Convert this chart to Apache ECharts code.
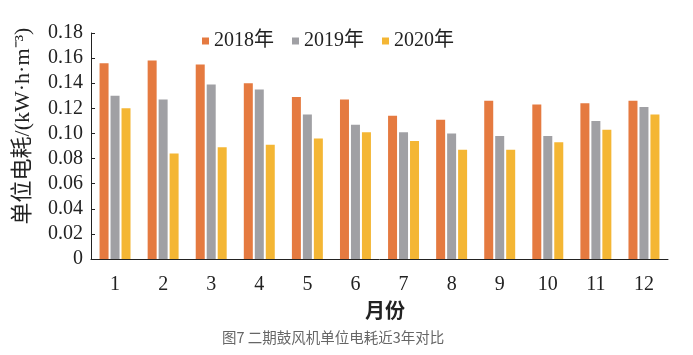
<!DOCTYPE html>
<html><head><meta charset="utf-8">
<script src="https://cdn.jsdelivr.net/npm/echarts@6/dist/echarts.min.js"></script>
<style>html,body{margin:0;padding:0;background:#fff}#c{width:693px;height:355px}</style>
</head><body><div id="c"></div>
<script>
var months = ['1','2','3','4','5','6','7','8','9','10','11','12'];
var seriesNames = ['2018年','2019年','2020年'];
var v2018 = [0.156,0.158,0.155,0.140,0.129,0.127,0.114,0.111,0.126,0.123,0.124,0.126];
var v2019 = [0.130,0.127,0.139,0.135,0.115,0.107,0.101,0.100,0.098,0.098,0.110,0.121];
var v2020 = [0.120,0.084,0.089,0.091,0.096,0.101,0.094,0.087,0.087,0.093,0.103,0.115];
var yTicks = [0,0.02,0.04,0.06,0.08,0.10,0.12,0.14,0.16,0.18];
var colors = ['#E57A40','#A0A0A4','#F4B634'];
var serif = '"Liberation Serif","Noto Sans CJK SC",serif';
var chart = echarts.init(document.getElementById('c'));
function mk(name, data, i){
  return {name:name,type:'bar',data:data,barWidth:9,barGap:'22%',itemStyle:{color:colors[i]}};
}
chart.setOption({
  animation:false,
  grid:{left:91,right:25,top:33,bottom:96},
  legend:{top:26,left:197,itemWidth:7,itemHeight:7,itemGap:18,icon:'rect',
    textStyle:{fontFamily:serif,fontSize:20,color:'#222'},
    data:seriesNames},
  graphic:[
    {type:'text',left:222,top:330,style:{text:'图7 二期鼓风机单位电耗近3年对比',font:'14.5px "Noto Sans CJK SC",sans-serif',fill:'#666'}},
    {type:'text',left:365,top:300,style:{text:'月份',font:'bold 20px "Noto Sans CJK SC",serif',fill:'#222'}},
    {type:'text',x:23,y:126,rotation:Math.PI/2,style:{text:'单位电耗/(kW·h·m⁻³)',font:'22px "Liberation Serif","Noto Sans CJK SC",serif',fill:'#222',align:'center',verticalAlign:'middle'}}
  ],
  xAxis:{type:'category',data:months,
    axisLine:{lineStyle:{color:'#222',width:1}},
    axisTick:{inside:true,length:4,lineStyle:{color:'#222'}},
    axisLabel:{fontFamily:serif,fontSize:20,color:'#222',margin:16}},
  yAxis:{type:'value',min:0,max:0.18,interval:0.02,
    axisLine:{show:true,lineStyle:{color:'#222',width:1}},
    axisTick:{show:true,inside:true,length:4,lineStyle:{color:'#222'}},
    splitLine:{show:false},
    axisLabel:{fontFamily:serif,fontSize:20,color:'#222',margin:8,
      formatter:function(v){ var t = yTicks.find(function(x){return Math.abs(x-v)<1e-9;}); return t===0?'0':(t!==undefined?t.toFixed(2):v.toFixed(2)); }}},
  series:[mk(seriesNames[0],v2018,0),mk(seriesNames[1],v2019,1),mk(seriesNames[2],v2020,2)]
});
</script></body></html>
